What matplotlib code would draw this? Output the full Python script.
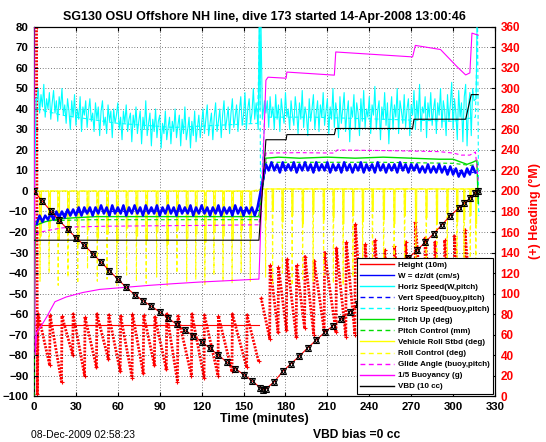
import numpy as np
import matplotlib
matplotlib.use("Agg")
import matplotlib.pyplot as plt
from matplotlib.lines import Line2D

plt.rcParams['font.family'] = ['Liberation Sans', 'DejaVu Sans']

# ---------------------------------------------------------------------------
# Data (time in minutes, values in left-axis units,
# heading in degrees on the right axis)
# ---------------------------------------------------------------------------

TITLE = "SG130 OSU Offshore NH line, dive 173 started 14-Apr-2008 13:00:46"

# height (10 m), sampled where the black markers sit
height_t = [0, 6, 12, 18, 24, 30, 36, 42, 48, 54, 60, 66, 72, 78, 84, 90, 96,
            102, 108, 114, 120, 126, 132, 138, 144, 150, 156, 162, 164,
            166, 172, 178, 184, 190, 196, 202, 208, 214, 220, 226, 232, 238,
            244, 250, 256, 262, 268, 274, 280, 286, 292, 298, 304, 308, 312,
            316, 318]
height_v = [0, -5, -9.8, -14.3, -18.7, -22.7, -26.5, -30.5, -34.7, -38.9, -43,
            -47, -50.5, -53.5, -56.2, -59, -62, -65, -68, -70.5, -73.5, -76.8,
            -80, -83.5, -86.6, -89.5, -92.5, -96, -97,
            -96.5, -93, -88, -84.2, -80.5, -76.5, -72.7, -69, -65.7, -62.5,
            -59, -55.3, -51.5, -47.8, -44, -40.2, -36.5, -32.8, -29, -25,
            -20.8, -16.5, -12, -8.4, -6, -3.5, -1, 0]

# horizontal speed (W, pitch), 1-minute samples on dive (2-159) and climb (166-315)
hspd_start = [-18, 45]
hspd_dive = [44, 50, 38, 47, 41, 52, 36, 45, 40, 48, 35, 43, 49, 38, 44, 34, 46, 40, 50, 37,
             42, 33, 45, 39, 30, 44, 36, 47, 32, 40, 35, 46, 29, 41, 37, 44, 31, 39, 45, 34,
             38, 29, 43, 35, 41, 27, 39, 44, 32, 36, 28, 42, 34, 39, 26, 40, 33, 37, 43, 30,
             36, 25, 39, 33, 42, 29, 35, 38, 24, 37, 31, 41, 28, 34, 39, 23, 36, 30, 44, 27,
             33, 38, 22, 35, 29, 40, 26, 34, 37, 21, 33, 28, 39, 25, 31, 36, 23, 34, 29, 40,
             26, 32, 37, 22, 35, 28, 41, 25, 30, 36, 21, 34, 27, 39, 24, 31, 37, 26, 33, 40,
             28, 35, 42, 27, 33, 38, 25, 36, 43, 29, 34, 40, 26, 37, 44, 30, 35, 41, 28, 38,
             45, 31, 36, 42, 29, 39, 46, 32, 37, 48, 30, 40, 45, 33, 38, 50, 35, 43]
hspd_turn = [30, 85, 40, 85, 35, 44]
hspd_climb = [38, 44, 31, 46, 36, 41, 30, 47, 35, 42, 29, 45, 38, 33, 48, 36, 40, 30, 44, 37,
              32, 46, 39, 28, 43, 35, 49, 31, 41, 37, 27, 45, 34, 40, 47, 30, 38, 44, 29, 42,
              36, 48, 32, 39, 45, 28, 41, 35, 50, 31, 43, 37, 26, 46, 33, 40, 48, 29, 38, 44,
              24, 41, 36, 47, 30, 43, 38, 27, 45, 34, 49, 31, 40, 36, 46, 28, 42, 37, 51, 30,
              39, 44, 25, 41, 35, 48, 32, 43, 23, 38, 46, 30, 42, 36, 50, 28, 44, 39, 33, 47,
              31, 40, 45, 27, 42, 37, 49, 30, 44, 35, 52, 29, 41, 38, 46, 26, 43, 36, 48, 32,
              40, 45, 28, 43, 37, 50, 31, 44, 39, 27, 47, 34, 42, 53, 30, 45, 38, 25, 49, 36,
              43, 24, 46, 52, 22, 41, 48, 27, 50, 44]
hspd_end = [45, 85]

# W = dz/dt (cm/s), 2-minute samples
w_dive = [-16, -12, -15, -12, -14, -11, -14, -10, -13, -10, -13, -9, -12, -9,
          -12, -8, -12, -8, -11, -8, -12, -8, -11, -7, -11, -8, -12, -7, -11,
          -8, -11, -7, -12, -8, -11, -7, -11, -8, -12, -7, -11, -8, -11, -7,
          -12, -8, -11, -7, -11, -8, -12, -7, -11, -8, -11, -7, -12, -8, -11,
          -7, -11, -8, -12, -8, -11, -7, -12, -8, -11, -8, -12, -7, -11, -8,
          -12, -8, -11, -8, -12, -8]
w_climb = [13, 10, 14, 10, 13, 9, 14, 10, 13, 10, 14, 9, 13, 10, 14, 10, 13, 9,
           14, 10, 13, 10, 14, 9, 13, 10, 13, 9, 14, 10, 13, 9, 13, 10, 14, 9,
           13, 10, 13, 9, 14, 10, 13, 9, 13, 10, 13, 9, 14, 10, 13, 9, 13, 10,
           13, 9, 12, 9, 13, 9, 12, 9, 13, 9, 12, 8, 12, 8, 11, 7, 10, 7, 11,
           8, 12, 9]

# vertical speed (buoy, pitch)
vsp_t = [2, 10, 20, 40, 160, 161, 166, 220, 280, 305, 312, 318]
vsp_v = [-14, -12.5, -11, -10, -9.5, -9.5, 11.5, 11.5, 11, 10, 8.5, 10]

# horizontal speed (buoy, pitch)
hbuoy_t = [2, 20, 60, 100, 160, 161.6, 162.2, 165, 200, 250, 300, 316,
           317.5, 318.3]
hbuoy_v = [40, 37, 33, 31, 33, 85, -8, 36, 36, 35, 34, 36, 85, -12]

# pitch up (deg)
pitch_t = [0, 1, 4, 8, 14, 20, 30, 45, 60, 80, 100, 120, 140, 160, 161, 166,
           175, 190, 210, 230, 250, 270, 290, 300, 306, 310, 314, 317, 318]
pitch_v = [-70, -17, -16, -15, -14, -13.5, -13, -12.5, -12.5, -12.5, -12.5,
           -12.5, -12.5, -12.5, -12, 16, 16.5, 16, 16.5, 16, 16.5, 16, 15.5,
           15.5, 14, 13, 14, 15, -6]

# pitch control (mm)
pctl_t = [0, 0.8, 10, 40, 100, 160, 161, 166, 200, 250, 300, 312, 318]
pctl_v = [-100, -15, -14.5, -14, -14, -14, -14, 14, 14, 14, 13.5, 12.5, 13]

# vehicle roll: turn times, and how far the roll dips at each turn
roll_dive_t = [4, 10.5, 17, 24, 31, 38, 45, 52, 59, 66, 73, 80, 87.5, 95, 102,
               109, 115.5, 122, 128.5, 135, 141.5, 148, 154.5]
roll_dive_v = [-22, -18, -24, -20, -26, -19, -23, -21, -25, -18, -22, -24, -20,
               -26, -19, -23, -21, -25, -20, -22, -24, -19, -23]
roll_climb_t = [165.5, 170.5, 177.5, 184.5, 192, 199.5, 207, 214, 221, 228,
                235, 242, 250, 257.5, 265, 273, 280.5, 288, 295.5, 302.5,
                307.5, 312, 316]
roll_climb_v = [-14, -10, -15, -12, -16, -11, -14, -13, -16, -12, -15, -10,
                -14, -16, -12, -15, -13, -16, -11, -15, -14, -12, -16]
# roll control (deg) excursions at the same turns
rctl_dive_v = [-44, -40, -46, -42, -45, -38, -44, -43, -46, -41, -44, -45, -42,
               -46, -40, -44, -43, -46, -41, -44, -45, -40, -44]
rctl_climb_v = [-42, -45, -40, -46, -43, -44, -41, -45, -46, -42, -44, -40,
                -45, -43, -46, -41, -44, -45, -42, -46, -43, -44, -40]

# glide angle (buoy, pitch)
glide_t = [1, 5, 12, 20, 30, 50, 80, 120, 160, 161, 166, 190, 215, 217, 240,
           270, 290, 300, 306, 312, 316, 318]
glide_v = [-21, -20, -19, -18, -17.5, -17.2, -17, -16.8, -16.5, -16.5, 18.5,
           18.7, 18.5, 20, 19.8, 19.5, 19.2, 18.5, 17.5, 17.5, 19, 5]

# 1/5 buoyancy (g)
buoy_t = [0, 0.8, 2, 5, 9, 15, 23, 35, 47, 65, 83, 100, 119, 140, 160, 161,
          166, 167.5, 180.5, 181, 215, 216, 271, 273, 291, 303, 309, 312,
          313.5, 318]
buoy_v = [80, -80, -69, -66, -61.5, -54, -51.7, -49.5, -48, -47, -46, -45.2,
          -44.4, -43.7, -43, -43, 54, 55.5, 55, 58, 56.5, 67.8, 65.4, 71, 69,
          60.5, 56.6, 57.6, 77, 76]

# VBD (10 cc)
vbd_t = [0, 161, 166, 180.5, 181, 215, 216, 271, 272, 309, 313, 318]
vbd_v = [-24, -24, 25, 25, 27.5, 27.5, 30.5, 30.5, 35, 35, 47, 47]

# heading (deg): each turn jumps to the top value and drifts to the bottom
head_dive_t = [3, 11.5, 20, 28, 36.5, 45, 53.5, 62, 70.5, 78.5, 86.5, 95, 103,
               113, 122, 132, 142, 152.5]
head_dive_top = [80, 79, 78, 80, 77, 80, 79, 78, 80, 79, 77, 80, 78, 80, 79,
                 78, 80, 79]
head_dive_bot = [30, 14, 40, 20, 28, 36, 24, 18, 22, 30, 26, 14, 20, 18, 20,
                 24, 28, 34]
head_climb_t = [162.5, 169, 175, 181, 188, 194, 200.5, 208, 216.5, 223.5, 230,
                237, 244, 251, 258, 266, 273, 280, 287, 294, 301, 308.5]
head_climb_top = [96, 128, 126, 134, 128, 136, 132, 140, 144, 150, 168, 148,
                  152, 142, 146, 150, 170, 154, 150, 152, 156, 162]
head_climb_bot = [56, 62, 64, 58, 66, 60, 64, 62, 58, 60, 40, 44, 38, 42, 36,
                  40, 38, 42, 36, 40, 34, 30]
head_start_t = [1.8, 2.4]
head_start_v = [360, 2]
target_head_t = [0, 161]
target_head_v = [69, 69]


# ---------------------------------------------------------------------------
# helpers to turn event lists into drawable paths
# ---------------------------------------------------------------------------

def sawtooth(times, tops, bots, t_end):
    xs, ys = [], []
    ends = list(times[1:]) + [t_end]
    for t0, t1, top, bot in zip(times, ends, tops, bots):
        xs += [t0, t1 - 0.3]
        ys += [top, bot]
    return xs, ys


def notches(times, depths, base, width):
    xs, ys = [], []
    for t, d in zip(times, depths):
        xs += [t, t + 0.15, t + width - 0.15, t + width]
        ys += [base, d, d, base]
    return xs, ys


def spikes(times, depths, base):
    xs, ys = [], []
    for t, d in zip(times, depths):
        xs += [t, t + 0.3, t + 0.6]
        ys += [base, d, base]
    return xs, ys


RED, BLUE, CYAN = "#ff0000", "#0000ff", "#00ffff"
GREEN, YELLOW, MAGENTA = "#00dd00", "#ffff00", "#ff00ff"
DASH = (0, (3.5, 2.5))
LW = 0.8

fig = plt.figure(figsize=(5.46, 4.42), dpi=100)
ax = fig.add_axes([0.0623, 0.104, 0.8443, 0.835])
ax2 = ax.twinx()
ax.set_zorder(2)
ax.patch.set_visible(False)

# heading on the right axis (drawn underneath everything)
HEAD_STYLE = dict(color=RED, lw=2.0, ls=(0, (0.7, 0.5)), marker="+", ms=3.5, mew=0.8)
hx, hy = sawtooth(head_dive_t, head_dive_top, head_dive_bot, 161)
ax2.plot(head_start_t + hx, head_start_v + hy, **HEAD_STYLE)
cx, cy = sawtooth(head_climb_t, head_climb_top, head_climb_bot, 316)
ax2.plot(cx, cy, **HEAD_STYLE)
ax2.plot(target_head_t, target_head_v, color=RED, lw=LW)
ax2.set_ylim(0, 360)
ax2.set_yticks(np.arange(0, 361, 20))
ax2.tick_params(axis="y", direction="in", length=3, colors="k",
                labelcolor=RED, labelsize=8.5, pad=4)
for lab in ax2.get_yticklabels():
    lab.set_fontweight("bold")
ax2.set_ylabel("(+) Heading (°M)", color=RED, fontsize=9, fontweight="bold",
               labelpad=6)

# roll and roll control
rx, ry = notches(roll_dive_t, roll_dive_v, 0, 1.3)
rx2, ry2 = notches(roll_climb_t, roll_climb_v, 1, 1.0)
sx, sy = spikes(roll_dive_t, rctl_dive_v, 0)
sx2, sy2 = spikes(roll_climb_t, rctl_climb_v, 1)
ax.plot(sx + sx2, sy + sy2, color=YELLOW, lw=LW, ls=DASH, zorder=2)
ax.plot([0, 0.5] + rx + [160, 162] + rx2, [-22, 0] + ry + [0, 1] + ry2,
        color=YELLOW, lw=LW, zorder=2.1)

# speeds
t_dive = np.linspace(2, 159, len(hspd_dive))
t_climb = np.linspace(166, 315, len(hspd_climb))
hs_t = np.concatenate([[0, 1.5], t_dive, [160.5, 161.2, 161.8, 162.4, 163.5, 165],
                       t_climb, [316.5, 317.2]])
hs_v = hspd_start + hspd_dive + hspd_turn + hspd_climb + hspd_end
ax.plot(hs_t, hs_v, color=CYAN, lw=LW, zorder=3)
ax.plot(hbuoy_t, hbuoy_v, color=CYAN, lw=LW, ls=DASH, zorder=2.9)

wt = np.concatenate([np.linspace(2, 160, len(w_dive)),
                     np.linspace(166, 316, len(w_climb))])
ax.plot(vsp_t, vsp_v, color=BLUE, lw=LW, ls=DASH, zorder=3)
ax.plot(wt, w_dive + w_climb, color=BLUE, lw=1.8, zorder=3.2)

# pitch
ax.plot(pctl_t, pctl_v, color=GREEN, lw=LW, ls=DASH, zorder=3.1)
ax.plot(pitch_t, pitch_v, color=GREEN, lw=1.0, zorder=3.1)

# glide angle, buoyancy, VBD
ax.plot(glide_t, glide_v, color=MAGENTA, lw=LW, ls=DASH, zorder=3.3)
ax.plot(buoy_t, buoy_v, color=MAGENTA, lw=LW, zorder=3.3)
ax.plot(vbd_t, vbd_v, color="k", lw=LW, zorder=3.4)

# depth profile with its markers
ax.plot(height_t, height_v, color=RED, lw=LW, zorder=4)
ax.plot(height_t, height_v, ls="none", marker="^", ms=4.2, mfc="none",
        mec="k", mew=0.8, zorder=4.1)
ax.plot(height_t, height_v, ls="none", marker="v", ms=4.2, mfc="none",
        mec="k", mew=0.8, zorder=4.1)

ax.set_xlim(0, 330)
ax.set_ylim(-100, 80)
ax.set_xticks(np.arange(0, 331, 30))
ax.set_yticks(np.arange(-100, 81, 10))
ax.tick_params(direction="in", length=3, top=True, labelsize=8.2, pad=4)
for lab in ax.get_xticklabels() + ax.get_yticklabels():
    lab.set_fontweight("bold")
ax.grid(True, ls=(0, (1, 3)), color="k", lw=0.5)
ax.set_axisbelow(True)
ax.set_xlabel("Time (minutes)", fontsize=9, fontweight="bold", labelpad=1)
ax.set_title(TITLE, fontsize=9, fontweight="bold", pad=5)

handles = [
    Line2D([], [], color=RED, lw=1, label="Height (10m)"),
    Line2D([], [], color=BLUE, lw=1, label="W = dz/dt (cm/s)"),
    Line2D([], [], color=CYAN, lw=1, label="Horiz Speed(W,pitch)"),
    Line2D([], [], color=BLUE, lw=1, ls=DASH, label="Vert Speed(buoy,pitch)"),
    Line2D([], [], color=CYAN, lw=1, ls=DASH, label="Horiz Speed(buoy,pitch)"),
    Line2D([], [], color=GREEN, lw=1, label="Pitch Up (deg)"),
    Line2D([], [], color=GREEN, lw=1, ls=DASH, label="Pitch Control (mm)"),
    Line2D([], [], color=YELLOW, lw=1, label="Vehicle Roll Stbd (deg)"),
    Line2D([], [], color=YELLOW, lw=1, ls=DASH, label="Roll Control (deg)"),
    Line2D([], [], color=MAGENTA, lw=1, ls=DASH, label="Glide Angle (buoy,pitch)"),
    Line2D([], [], color=MAGENTA, lw=1, label="1/5 Buoyancy (g)"),
    Line2D([], [], color="k", lw=1, label="VBD (10 cc)"),
]
leg = ax.legend(handles=handles, loc="lower right", prop={"size": 5.8, "weight": "bold"},
                frameon=True, fancybox=False, framealpha=1, edgecolor="k",
                handlelength=4.2, handletextpad=0.5, labelspacing=0.42,
                borderpad=0.4, borderaxespad=0.3)
leg.get_frame().set_linewidth(0.8)
leg.set_zorder(10)

fig.text(31 / 546, 1 - 435 / 442, "08-Dec-2009 02:58:23", fontsize=7.5, va="center")
fig.text(313 / 546, 1 - 435 / 442, "VBD bias =0 cc", fontsize=8.7,
         fontweight="bold", va="center")

fig.savefig("out.png", dpi=100)
